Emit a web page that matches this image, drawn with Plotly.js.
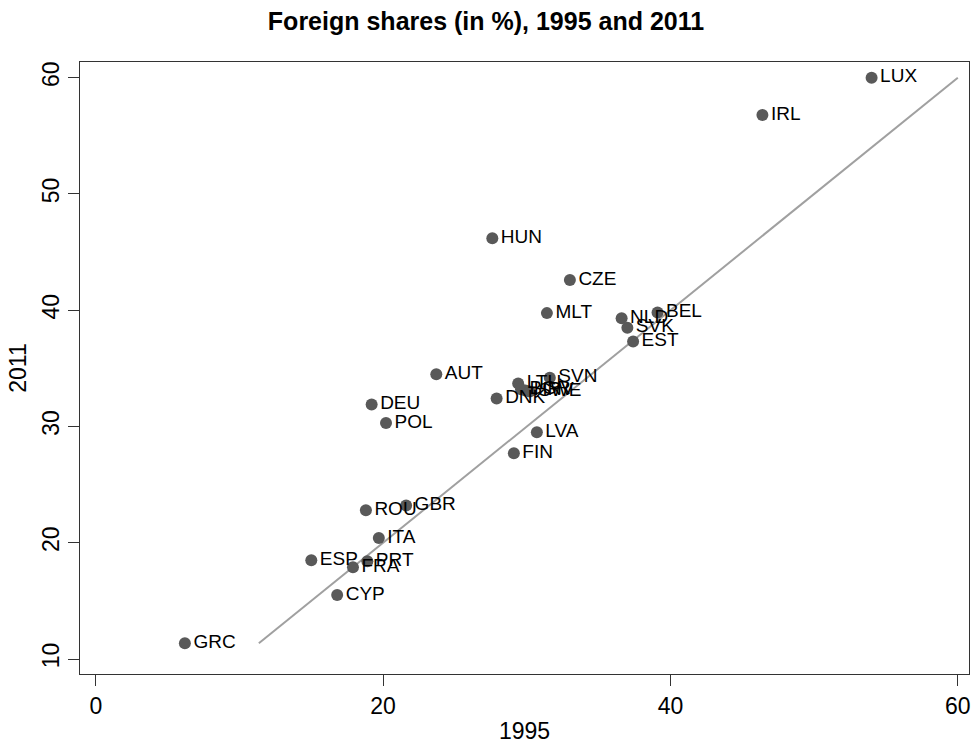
<!DOCTYPE html>
<html>
<head>
<meta charset="utf-8">
<script src="https://cdn.plot.ly/plotly-3.0.1.min.js"></script>
<style>html,body{margin:0;padding:0;background:#fff;}#chart{width:972px;height:744px;}</style>
</head>
<body>
<div id="chart"></div>
<script>
// Country codes
const countries = ["LUX","IRL","HUN","CZE","MLT","BEL","NLD","SVK","EST","AUT","SVN","LTU","BGR","HRV","SWE","DNK","DEU","POL","LVA","FIN","ROU","GBR","ITA","ESP","PRT","FRA","CYP","GRC"];
// Foreign shares in 1995 (%)
const share1995 = [54.0,46.4,27.6,33.0,31.4,39.1,36.6,37.0,37.4,23.7,31.6,29.4,29.6,29.9,30.2,27.9,19.2,20.2,30.7,29.1,18.8,21.6,19.7,15.0,18.9,17.9,16.8,6.2];
// Foreign shares in 2011 (%)
const share2011 = [60.0,56.8,46.2,42.6,39.75,39.8,39.3,38.5,37.3,34.5,34.2,33.7,33.2,33.1,33.0,32.4,31.9,30.3,29.5,27.7,22.8,23.2,20.4,18.5,18.4,17.9,15.5,11.35];
// 45-degree reference line
const lineX = [11.35, 60];
const lineY = [11.35, 60];
// Axis ticks
const xTicks = [0, 20, 40, 60];
const yTicks = [10, 20, 30, 40, 50, 60];

const font = "Liberation Sans, Arial, Helvetica, sans-serif";

const traces = [
  {
    x: lineX, y: lineY, mode: "lines", type: "scatter",
    line: {color: "#a0a0a0", width: 2}, hoverinfo: "skip"
  },
  {
    x: share1995, y: share2011, text: countries, mode: "markers+text", type: "scatter",
    textposition: "middle right",
    textfont: {family: font, size: 19, color: "#000"},
    marker: {color: "#595959", size: 12}
  }
];

const layout = {
  width: 972, height: 744,
  paper_bgcolor: "#fff", plot_bgcolor: "#fff",
  showlegend: false,
  font: {family: font, color: "#000"},
  margin: {l: 80, r: 3, t: 62, b: 70},
  title: {
    text: "<b>Foreign shares (in %), 1995 and 2011</b>",
    font: {family: font, size: 25, color: "#000"},
    x: 0.5, xref: "container", xanchor: "center",
    y: 1 - 21/744, yref: "container", yanchor: "middle"
  },
  xaxis: {
    range: [-1.1, 60.78], tickvals: xTicks, ticktext: xTicks.map(String),
    showgrid: false, zeroline: false,
    showline: true, mirror: true, linecolor: "#333", linewidth: 1,
    ticks: "outside", ticklen: 11, tickcolor: "#333", tickwidth: 1,
    tickfont: {family: font, size: 23, color: "#000"},
    title: {text: "1995", font: {family: font, size: 23, color: "#000"}, standoff: 6},
    automargin: false
  },
  yaxis: {
    range: [8.71, 61.35], tickvals: yTicks, ticktext: yTicks.map(String),
    showgrid: false, zeroline: false,
    showline: true, mirror: true, linecolor: "#333", linewidth: 1,
    ticks: "outside", ticklen: 11, tickcolor: "#333", tickwidth: 1,
    tickangle: -90,
    tickfont: {family: font, size: 23, color: "#000"},
    title: {text: "2011", font: {family: font, size: 23, color: "#000"}, standoff: 4},
    automargin: false
  }
};

Plotly.newPlot("chart", traces, layout, {displayModeBar: false, staticPlot: true});
</script>
</body>
</html>
